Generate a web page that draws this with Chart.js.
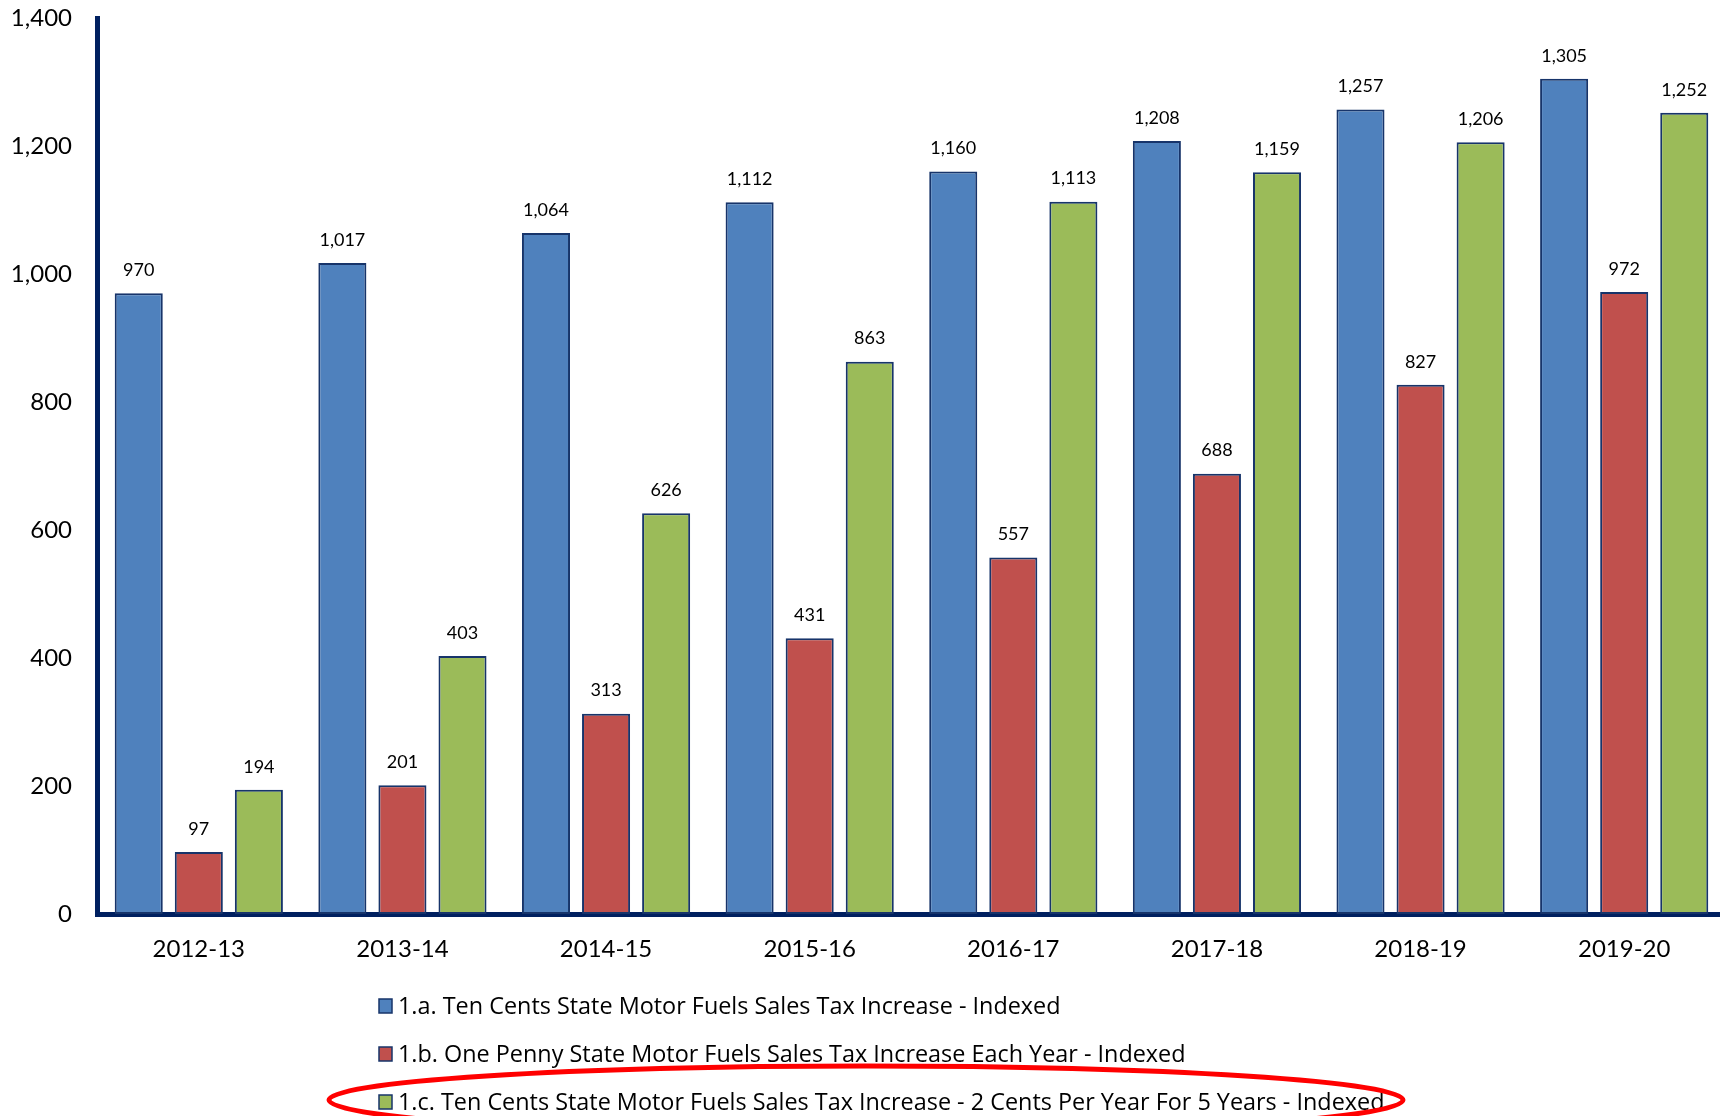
<!DOCTYPE html>
<html>
<head>
<meta charset="utf-8">
<script src="https://cdn.jsdelivr.net/npm/chart.js@4"></script>
<style>
  body { margin: 0; background: #fff; overflow: hidden; }
  #wrap { position: relative; width: 1726px; height: 1116px; }
</style>
</head>
<body>
<div id="wrap"><canvas id="taxChart"></canvas></div>
<script>
const years = ['2012-13', '2013-14', '2014-15', '2015-16', '2016-17', '2017-18', '2018-19', '2019-20'];
const tenCents = [970, 1017, 1064, 1112, 1160, 1208, 1257, 1305];
const onePenny = [97, 201, 313, 431, 557, 688, 827, 972];
const twoCentsPerYear = [194, 403, 626, 863, 1113, 1159, 1206, 1252];
const seriesNames = [
  '1.a. Ten Cents State Motor Fuels Sales Tax Increase - Indexed',
  '1.b. One Penny State Motor Fuels Sales Tax Increase Each Year - Indexed',
  '1.c. Ten Cents State Motor Fuels Sales Tax Increase - 2 Cents Per Year For 5 Years - Indexed'
];

const FONT = 'Lato, "Liberation Sans", sans-serif';
const NAVY = '#002060';
const EDGE = '#17346a';

// value labels above each bar
const barLabels = {
  id: 'barLabels',
  afterDatasetsDraw(chart) {
    const ctx = chart.ctx;
    ctx.save();
    ctx.font = '18px ' + FONT;
    ctx.fillStyle = '#000';
    ctx.textAlign = 'center';
    ctx.textBaseline = 'bottom';
    chart.data.datasets.forEach((ds, i) => {
      chart.getDatasetMeta(i).data.forEach((bar, j) => {
        ctx.fillText(ds.data[j].toLocaleString('en-US'), bar.x, bar.y - 14);
      });
    });
    ctx.restore();
  }
};

// stacked legend under the axis, third entry circled
const stackLegend = {
  id: 'stackLegend',
  afterDraw(chart) {
    const ctx = chart.ctx;
    ctx.save();
    ctx.font = '23.4px "Open Sans", sans-serif';
    ctx.textBaseline = 'middle';
    chart.data.datasets.forEach((ds, i) => {
      const y = 1006 + i * 48;
      ctx.fillStyle = ds.backgroundColor;
      ctx.fillRect(379, y - 7, 13, 14);
      ctx.strokeStyle = EDGE;
      ctx.lineWidth = 1.5;
      ctx.strokeRect(379, y - 7, 13, 14);
      ctx.fillStyle = '#000';
      ctx.fillText(ds.label, 398, y + 1);
    });
    ctx.beginPath();
    ctx.ellipse(866, 1100, 537, 34, 0, 0, Math.PI * 2);
    ctx.strokeStyle = '#ff0000';
    ctx.lineWidth = 5;
    ctx.stroke();
    ctx.restore();
  }
};

const bar = (label, data, color) => ({
  label, data,
  backgroundColor: color,
  borderColor: EDGE,
  borderWidth: 2,
  borderSkipped: false,
  categoryPercentage: 0.885,
  barPercentage: 0.8
});

new Chart(document.getElementById('taxChart'), {
  type: 'bar',
  data: {
    labels: years,
    datasets: [
      bar(seriesNames[0], tenCents, '#4f81bd'),
      bar(seriesNames[1], onePenny, '#c0504d'),
      bar(seriesNames[2], twoCentsPerYear, '#9bbb59')
    ]
  },
  options: {
    responsive: true,
    maintainAspectRatio: false,
    animation: false,
    layout: { padding: { top: 18, right: 0, bottom: 142, left: 0 } },
    plugins: {
      legend: { display: false },
      tooltip: { enabled: false }
    },
    scales: {
      x: {
        grid: { display: false, drawTicks: false },
        border: { display: true, color: NAVY, width: 5 },
        ticks: { color: '#000', padding: 21, font: { family: FONT, size: 24 } },
        afterFit(scale) { scale.height = 60; }
      },
      y: {
        min: 0,
        max: 1400,
        grid: { display: false, drawTicks: false },
        border: { display: true, color: NAVY, width: 5 },
        ticks: {
          stepSize: 200,
          color: '#000',
          padding: 25,
          font: { family: FONT, size: 24 },
          callback: v => v.toLocaleString('en-US')
        },
        afterFit(scale) {
          scale.width = 97;
          scale.paddingTop = 0;
          scale.paddingBottom = 0;
        }
      }
    }
  },
  plugins: [barLabels, stackLegend]
});
</script>
</body>
</html>
